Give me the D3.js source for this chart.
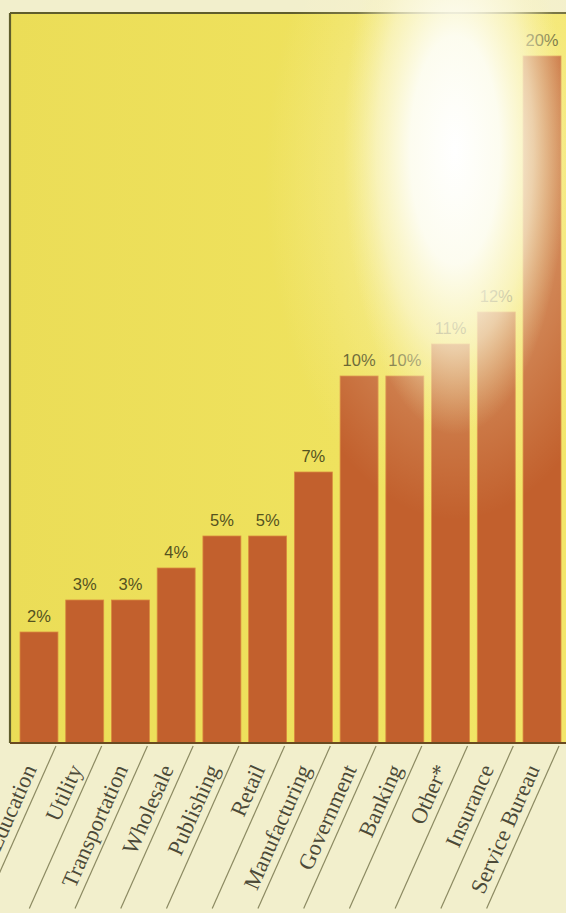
<!DOCTYPE html>
<html>
<head>
<meta charset="utf-8">
<script src="https://cdn.jsdelivr.net/npm/d3@7/dist/d3.min.js"></script>
<style>
  html, body { margin: 0; padding: 0; background: #f2efcc; }
  svg { display: block; }
</style>
</head>
<body>
<svg id="chart" width="566" height="913"></svg>
<script>
// ---- data ----
const categories = ["Education", "Utility", "Transportation", "Wholesale", "Publishing", "Retail",
                    "Manufacturing", "Government", "Banking", "Other*", "Insurance", "Service Bureau"];
const shares = [2, 3, 3, 4, 5, 5, 7, 10, 10, 11, 12, 20];

// ---- layout ----
const plot = { left: 10, top: 13, right: 566, bottom: 743 };

const svg = d3.select("#chart");
const defs = svg.append("defs");

const bg = defs.append("linearGradient").attr("id", "bgGrad").attr("x1", 0).attr("y1", 0).attr("x2", 1).attr("y2", 0);
bg.append("stop").attr("offset", "0%").attr("stop-color", "#ebdd57");
bg.append("stop").attr("offset", "60%").attr("stop-color", "#efe25e");
bg.append("stop").attr("offset", "100%").attr("stop-color", "#f3e66a");

const glare = defs.append("radialGradient").attr("id", "glare")
  .attr("cx", 0.5).attr("cy", 0.5).attr("r", 0.5);
glare.append("stop").attr("offset", "0%").attr("stop-color", "#ffffff").attr("stop-opacity", 1);
glare.append("stop").attr("offset", "40%").attr("stop-color", "#fdfdf4").attr("stop-opacity", 0.95);
glare.append("stop").attr("offset", "70%").attr("stop-color", "#fbf8d8").attr("stop-opacity", 0.6);
glare.append("stop").attr("offset", "100%").attr("stop-color", "#f8f2b0").attr("stop-opacity", 0);

const glare2 = defs.append("radialGradient").attr("id", "glare2")
  .attr("cx", 0.5).attr("cy", 0.5).attr("r", 0.5);
glare2.append("stop").attr("offset", "0%").attr("stop-color", "#fffbe6").attr("stop-opacity", 0.6);
glare2.append("stop").attr("offset", "100%").attr("stop-color", "#fff6c0").attr("stop-opacity", 0);

// scales
const x = d3.scaleBand().domain(categories).range([20, 561]).paddingInner(0.17).paddingOuter(0);
const y = d3.scaleLinear().domain([0, 20]).range([696, 56]);

// plot area
svg.append("rect")
  .attr("x", plot.left).attr("y", plot.top)
  .attr("width", plot.right - plot.left).attr("height", plot.bottom - plot.top)
  .attr("fill", "url(#bgGrad)");

// bars
svg.append("g").selectAll("rect").data(shares).join("rect")
  .attr("x", (d, i) => x(categories[i]))
  .attr("y", d => y(d))
  .attr("width", x.bandwidth())
  .attr("height", d => plot.bottom - y(d))
  .attr("fill", "#c2602d")
  .attr("stroke", "#d98a3e")
  .attr("stroke-width", 0.8);

// value labels
svg.append("g").selectAll("text").data(shares).join("text")
  .attr("x", (d, i) => x(categories[i]) + x.bandwidth() / 2)
  .attr("y", d => y(d) - 10)
  .attr("text-anchor", "middle")
  .attr("font-family", "Liberation Sans, Arial, sans-serif")
  .attr("font-size", 16.5)
  .attr("fill", "#54521f")
  .text(d => d + "%");

// plot frame (left, top, bottom)
const frame = svg.append("g").attr("fill", "none").attr("stroke", "#5f5d2c").attr("stroke-width", 2.2);
frame.append("line").attr("x1", plot.left).attr("y1", plot.top).attr("x2", plot.right).attr("y2", plot.top);
frame.append("line").attr("x1", plot.left).attr("y1", plot.top).attr("x2", plot.left).attr("y2", plot.bottom);
frame.append("line").attr("x1", plot.left).attr("y1", plot.bottom).attr("x2", plot.right).attr("y2", plot.bottom)
  .attr("stroke", "#6a4a20");

// glare overlays (photo reflection)
svg.append("ellipse").attr("cx", 455).attr("cy", 180).attr("rx", 190).attr("ry", 340)
  .attr("fill", "url(#glare2)");
svg.append("ellipse").attr("cx", 455).attr("cy", 150).attr("rx", 112).attr("ry", 285)
  .attr("fill", "url(#glare)");

// category separators and labels
const ang = 66;
const rad = ang * Math.PI / 180;
const lineLen = 178;
svg.append("g").selectAll("line").data(categories).join("line")
  .attr("x1", c => x(c) + x.bandwidth() - 2)
  .attr("y1", plot.bottom + 3)
  .attr("x2", c => x(c) + x.bandwidth() - 2 - lineLen * Math.cos(rad))
  .attr("y2", plot.bottom + 3 + lineLen * Math.sin(rad))
  .attr("stroke", "#8c8a62")
  .attr("stroke-width", 1.2);

svg.append("g").selectAll("text").data(categories).join("text")
  .attr("transform", c => `translate(${x(c) + x.bandwidth() / 2 - 2},${plot.bottom + 26}) rotate(${-ang})`)
  .attr("text-anchor", "end")
  .attr("font-family", "Liberation Serif, 'DejaVu Serif', serif")
  .attr("font-size", 22.5)
  .attr("fill", "#4c4a38")
  .text(c => c);
</script>
</body>
</html>
